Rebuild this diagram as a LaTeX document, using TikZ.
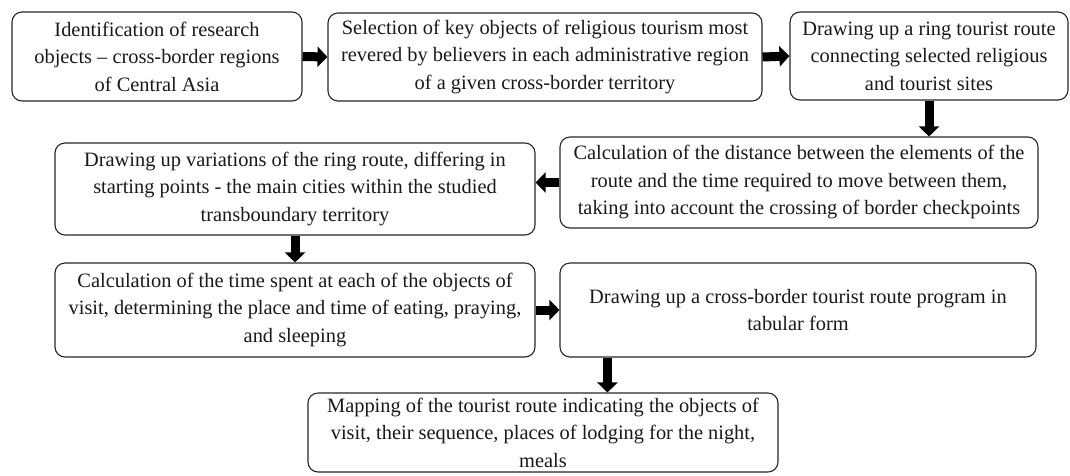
\documentclass[tikz,border=0pt]{standalone}
\usepackage{fontspec}
\setmainfont{Liberation Serif}
\usetikzlibrary{arrows.meta}
\tikzset{
  stepbox/.style={draw=black!85, line width=1.1pt, rounded corners=10pt, inner sep=0pt,
    align=center, font=\fontsize{20.4}{27.5}\selectfont, text=black!90},
  blockarrow/.style={draw=black, line width=9pt, -{Triangle[length=10pt,width=20pt]}}
}
\begin{document}
\begin{tikzpicture}[x=1pt,y=-1pt]
\useasboundingbox (0,0) rectangle (1070,475);
\node[stepbox, minimum width=290pt, minimum height=89pt] (b1) at (157,56.5)
  {Identification of research\\objects -- cross-border regions\\of Central Asia};
\node[stepbox, minimum width=434pt, minimum height=88pt] (b2) at (545,57)
  {Selection of key objects of religious tourism most\\revered by believers in each administrative region\\of a given cross-border territory};
\node[stepbox, minimum width=278pt, minimum height=88pt] (b3) at (929,56)
  {Drawing up a ring tourist route\\connecting selected religious\\and tourist sites};
\node[stepbox, minimum width=478pt, minimum height=91pt] (b4) at (799,182.5)
  {Calculation of the distance between the elements of the\\route and the time required to move between them,\\taking into account the crossing of border checkpoints};
\node[stepbox, minimum width=480pt, minimum height=92pt] (b5) at (295,189)
  {Drawing up variations of the ring route, differing in\\starting points - the main cities within the studied\\transboundary territory};
\node[stepbox, minimum width=480pt, minimum height=94pt] (b6) at (295,310)
  {Calculation of the time spent at each of the objects of\\visit, determining the place and time of eating, praying,\\and sleeping};
\node[stepbox, minimum width=476pt, minimum height=94pt] (b7) at (798,310)
  {Drawing up a cross-border tourist route program in\\tabular form};
\node[stepbox, minimum width=470pt, minimum height=79pt] (b8) at (543,432.5)
  {Mapping of the tourist route indicating the objects of\\visit, their sequence, places of lodging for the night,\\meals};
\coordinate (d7) at ([xshift=48pt]b7.south west);
\draw[blockarrow] (b1.east) -- (b2.west);
\draw[blockarrow] (b2.east) -- (b3.west);
\draw[blockarrow] (b3.south) -- (b3.south |- b4.north);
\draw[blockarrow] (b4.west) -- (b4.west -| b5.east);
\draw[blockarrow] (b5.south) -- (b6.north);
\draw[blockarrow] (b6.east) -- (b7.west);
\draw[blockarrow] (d7) -- (d7 |- b8.north);
\end{tikzpicture}
\end{document}
